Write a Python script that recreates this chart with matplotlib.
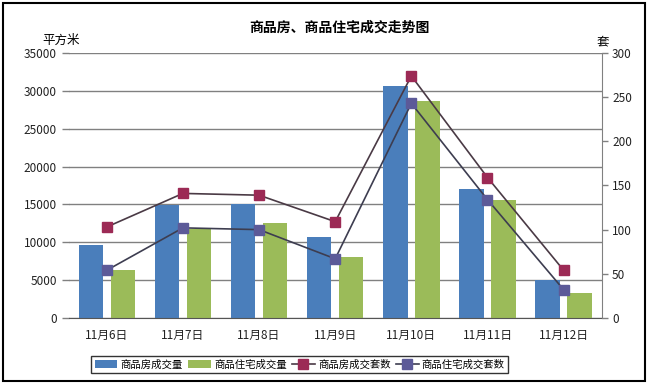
import matplotlib
matplotlib.use("Agg")
import matplotlib.pyplot as plt
import numpy as np
from matplotlib.patches import Rectangle

plt.rcParams['font.family'] = ['Noto Sans CJK SC', 'DejaVu Sans']

# 数据
fechas = ["11月6日", "11月7日", "11月8日", "11月9日", "11月10日", "11月11日", "11月12日"]
area_comercial = [9700, 14900, 15100, 10700, 30700, 17000, 5000]      # 商品房成交量
area_vivienda = [6400, 11800, 12600, 8000, 28700, 15600, 3300]       # 商品住宅成交量
sets_comercial = [103, 141, 139, 109, 274, 159, 54]                  # 商品房成交套数
sets_vivienda = [54, 102, 100, 67, 243, 134, 32]                     # 商品住宅成交套数

x = np.arange(len(fechas))

fig = plt.figure(figsize=(6.5, 3.84), dpi=100)
ax = fig.add_axes([0.1057, 0.172, 0.82, 0.69])
ax2 = ax.twinx()

gris = "#808080"
ax.set_axisbelow(True)
ax.yaxis.grid(True, color=gris, linewidth=1)
ax.bar(x - 0.21, area_comercial, width=0.32, color="#4a7ebb", label="商品房成交量", zorder=2)
ax.bar(x + 0.21, area_vivienda, width=0.32, color="#9bbb59", label="商品住宅成交量", zorder=2)

l1, = ax2.plot(x, sets_comercial, color="#4a3a45", linewidth=1.2, marker="s",
               markersize=7, markerfacecolor="#9c2a55", markeredgecolor="#9c2a55",
               label="商品房成交套数")
l2, = ax2.plot(x, sets_vivienda, color="#3d3d50", linewidth=1.2, marker="s",
               markersize=7, markerfacecolor="#5c5a98", markeredgecolor="#5c5a98",
               label="商品住宅成交套数")

ax.set_xlim(-0.5, len(fechas) - 0.5)
ax.set_ylim(0, 35000)
ax.set_yticks(range(0, 35001, 5000))
ax2.set_ylim(0, 300)
ax2.set_yticks(range(0, 301, 50))
ax.set_xticks(x)
ax.set_xticklabels(fechas)

for a in (ax, ax2):
    a.tick_params(labelsize=8.5, colors="#222222", length=5, width=1)
    for s in a.spines.values():
        s.set_visible(False)
ax.tick_params(axis="y", color=gris)
ax.tick_params(axis="x", length=0, pad=8)
ax2.tick_params(axis="y", color=gris, length=4)
ax2.spines["right"].set_visible(True)
ax2.spines["right"].set_color(gris)
ax.spines["bottom"].set_visible(True)
ax.spines["bottom"].set_color("#555555")

fig.text(0.065, 0.895, "平方米", fontsize=9, ha="left", va="center")
fig.text(0.918, 0.89, "套", fontsize=9, ha="left", va="center")
fig.text(0.522, 0.928, "商品房、商品住宅成交走势图", fontsize=10, fontweight="bold",
         ha="center", va="center")

handles = [ax.patches[0], ax.patches[len(fechas)], l1, l2]
labels = ["商品房成交量", "商品住宅成交量", "商品房成交套数", "商品住宅成交套数"]
leg = fig.legend(handles, labels, loc="center", bbox_to_anchor=(0.461, 0.051), ncol=4,
                 fontsize=7.5, frameon=True, fancybox=False, edgecolor="black",
                 handlelength=2.2, handletextpad=0.3, columnspacing=0.5,
                 borderpad=0.3)
leg.get_frame().set_linewidth(1)

# marco exterior
fig.patches.append(Rectangle((0.005, 0.008), 0.988, 0.984, transform=fig.transFigure,
                             fill=False, edgecolor="black", linewidth=1.5))

fig.savefig("out.png", dpi=100)
